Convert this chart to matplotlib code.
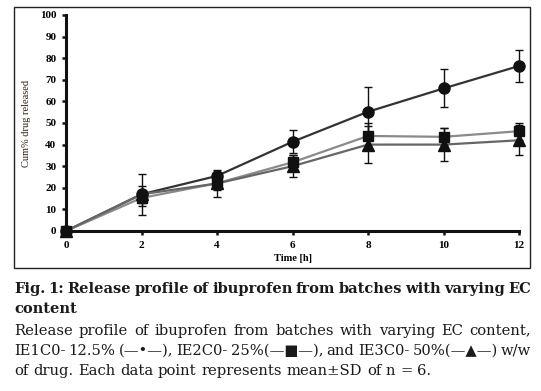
import numpy as np
import matplotlib
matplotlib.use("Agg")
import matplotlib.pyplot as plt
from matplotlib.patches import Rectangle

# time points (h)
time_h = [0, 2, 4, 6, 8, 10, 12]

# cumulative % drug released, mean and SD
ie1c0 = [0, 17.0, 25.5, 41.3, 55.2, 66.0, 76.4]
ie1c0_sd = [0, 9.5, 2.0, 5.3, 11.5, 8.8, 7.6]
ie2c0 = [0, 15.3, 22.1, 31.8, 44.0, 43.6, 46.2]
ie2c0_sd = [0, 3.5, 3.0, 3.2, 5.8, 4.0, 4.0]
ie3c0 = [0, 17.0, 22.0, 30.0, 40.0, 40.0, 42.0]
ie3c0_sd = [0, 4.0, 6.4, 5.0, 8.5, 7.5, 7.0]

y_ticks = [0, 10, 20, 30, 40, 50, 60, 70, 80, 90, 100]
x_ticks = [0, 2, 4, 6, 8, 10, 12]

caption_bold = ["Fig. 1: Release profile of ibuprofen from batches with varying EC",
                "content"]
caption_text = ["Release profile of ibuprofen from batches with varying EC content,",
                "IE1C0- 12.5% (\u2014\u2022\u2014), IE2C0- 25%(\u2014\u25a0\u2014), and IE3C0- 50%(\u2014\u25b2\u2014) w/w",
                "of drug. Each data point represents mean\u00b1SD of n = 6."]

W, H = 541, 391
fig = plt.figure(figsize=(W / 100, H / 100), dpi=100)

# outer frame around the chart
fig.patches.append(Rectangle((14 / W, 1 - 268 / H), (530 - 14) / W, (268 - 7) / H,
                             transform=fig.transFigure, fill=False, lw=1.0,
                             edgecolor="#222222"))

ax = fig.add_axes([66 / W, 1 - 231 / H, (519 - 66) / W, (231 - 15) / H])

series = [
    (ie1c0, ie1c0_sd, "o", 8, "#333333"),
    (ie2c0, ie2c0_sd, "s", 7.5, "#8a8a8a"),
    (ie3c0, ie3c0_sd, "^", 8, "#666666"),
]
for vals, sd, mk, ms, col in series:
    ax.errorbar(time_h, vals, yerr=sd, fmt="none", ecolor="#111111",
                elinewidth=1, capsize=3, capthick=1, clip_on=False, zorder=2)
    ax.plot(time_h, vals, color=col, lw=1.6, zorder=3, clip_on=False)
    ax.plot(time_h, vals, ls="none", marker=mk, ms=ms, color="#111111",
            zorder=4, clip_on=False)

ax.set_xlim(0, 12)
ax.set_ylim(0, 100)
ax.set_xticks(x_ticks)
ax.set_yticks(y_ticks)
tfont = dict(family="Liberation Serif", weight="bold", size=8)
ax.set_xticklabels([str(t) for t in x_ticks], fontdict=tfont)
ax.set_yticklabels([str(t) for t in y_ticks], fontdict=tfont)
for s in ["top", "right"]:
    ax.spines[s].set_visible(False)
for s in ["left", "bottom"]:
    ax.spines[s].set_linewidth(2.2)
    ax.spines[s].set_color("#111111")
ax.tick_params(length=3, width=1.8, color="#111111", pad=4)
ax.set_xlabel("Time [h]", family="Liberation Serif", weight="bold", size=7.5,
              labelpad=3)
ax.set_ylabel("Cum% drug released", family="Liberation Serif", size=7.5,
              labelpad=6, color="#2a2010")

# caption, justified to the frame width
fig.canvas.draw()
renderer = fig.canvas.get_renderer()
left, right = 14, 531
cap_font = "DejaVu Serif"
sizes = {"bold": 10.5, "normal": 10.6}


def text_width(s, weight):
    t = fig.text(0, 0, s, family=cap_font, weight=weight, size=sizes[weight])
    w = t.get_window_extent(renderer).width
    t.remove()
    return w


def put_line(text, y, weight, justify):
    words = text.split(" ")
    widths = [text_width(w, weight) for w in words]
    sp = text_width("a a", weight) - text_width("aa", weight)
    if justify and len(words) > 1:
        gap = (right - left - sum(widths)) / (len(words) - 1)
    else:
        gap = sp
    x = left
    for w, wd in zip(words, widths):
        fig.text(x / W, 1 - y / H, w, family=cap_font, weight=weight,
                 size=sizes[weight], color="#1a1a1a", va="baseline")
        x += wd + gap


for i, line in enumerate(caption_bold):
    put_line(line, 293 + 20 * i, "bold", i == 0)
for i, line in enumerate(caption_text):
    put_line(line, 335 + 20 * i, "normal", i < 2)

fig.savefig("out.png", dpi=100)
